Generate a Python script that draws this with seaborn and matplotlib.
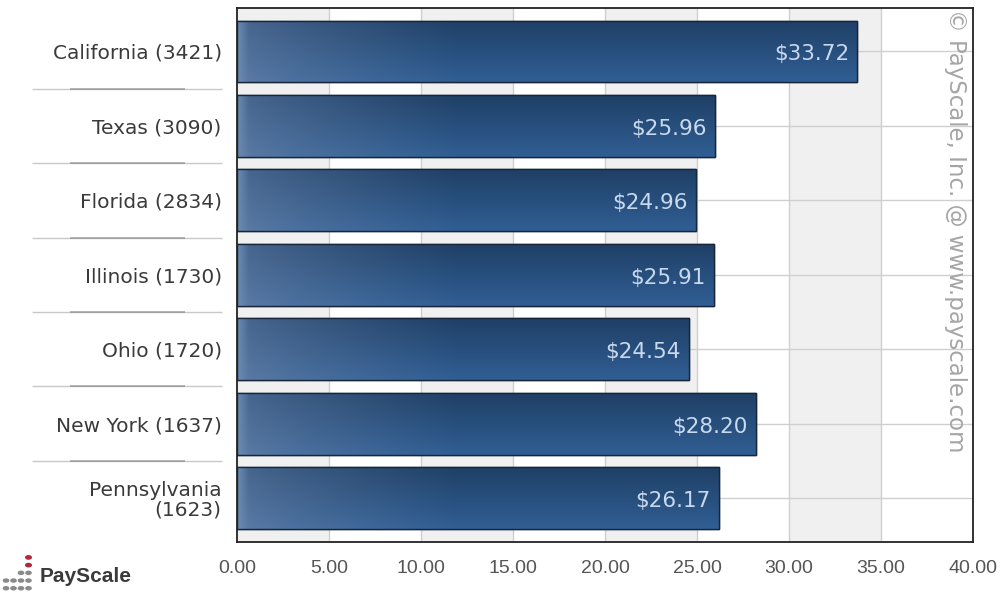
import matplotlib
matplotlib.use('Agg')
import matplotlib.pyplot as plt
import matplotlib.transforms as mtransforms
from matplotlib.patches import Circle, Rectangle
import seaborn as sns
import numpy as np
import pandas as pd

# data
states = ['California (3421)', 'Texas (3090)', 'Florida (2834)', 'Illinois (1730)',
          'Ohio (1720)', 'New York (1637)', 'Pennsylvania\n(1623)']
wages = [33.72, 25.96, 24.96, 25.91, 24.54, 28.20, 26.17]
wage_labels = ['$33.72', '$25.96', '$24.96', '$25.91', '$24.54', '$28.20', '$26.17']
x_ticks = [0, 5, 10, 15, 20, 25, 30, 35, 40]

df = pd.DataFrame({'state': states, 'wage': wages})

sns.set_style('white')
plt.rcParams['font.family'] = ['DejaVu Sans']

fig = plt.figure(figsize=(10, 5.93), dpi=100)
ax = fig.add_axes([0.237, 0.086, 0.736, 0.9])

sns.barplot(data=df, x='wage', y='state', orient='h', color='#2a5385',
            width=0.83, edgecolor='#1a2a40', linewidth=1.0, ax=ax, zorder=3)

ax.set_xlim(0, 40)
ax.set_ylim(len(states) - 1 + 0.59, -0.58)

# alternating column bands
for i, x0 in enumerate(x_ticks[:-1]):
    if i % 2 == 0:
        ax.axvspan(x0, x0 + 5, color='#f0f0f0', zorder=0, lw=0)
for x in x_ticks[1:-1]:
    ax.axvline(x, color='#cfcfcf', lw=1, zorder=1)
for i in range(len(states)):
    ax.axhline(i, color='#cfcfcf', lw=1, zorder=1)

# gradient fill for the bars (row 0 = top of bar)
xs = np.linspace(0, 40, 400)
ys = np.linspace(0, 1, 60)
X, Y = np.meshgrid(xs, ys)
h = np.clip(X / 12.0, 0, 1) ** 0.7
light_top = np.array([0.30, 0.42, 0.58])
light_bot = np.array([0.37, 0.49, 0.65])
dark_top = np.array([0.12, 0.25, 0.40])
dark_bot = np.array([0.19, 0.37, 0.58])
v = Y[..., None]
light = light_top * (1 - v) + light_bot * v
dark = dark_top * (1 - v) + dark_bot * v
img = light * (1 - h[..., None]) + dark * h[..., None]
edge = np.clip(1 - X / 0.6, 0, 1)[..., None]
img = img * (1 - edge) + np.array([0.42, 0.54, 0.69]) * edge
img = np.clip(img, 0, 1)

for patch in ax.patches[:len(states)]:
    bx, by = patch.get_x(), patch.get_y()
    bw, bh = patch.get_width(), patch.get_height()
    im = ax.imshow(img, extent=(0, 40, by, by + bh), aspect='auto',
                   origin='lower', zorder=3.5, interpolation='bilinear')
    im.set_clip_path(patch)
    border = Rectangle((bx, by), bw, bh, fill=False, edgecolor='#17263a',
                       lw=1.0, zorder=4)
    ax.add_patch(border)

# value labels inside bars
for i, (w, lab) in enumerate(zip(wages, wage_labels)):
    ax.text(w - 0.45, i + 0.04, lab, ha='right', va='center', fontsize=15.5,
            color='#c9d9ee', zorder=5)

ax.set_ylabel('')
ax.set_xlabel('')
ax.set_xticks(x_ticks)
ax.set_xticklabels([f'{t:.2f}' for t in x_ticks], fontsize=14, color='#555555',
                   family='Liberation Sans')
ax.tick_params(axis='x', direction='inout', length=8, width=1.2, color='#222222', pad=9)
ax.tick_params(axis='y', direction='out', length=5, width=1.2, color='#222222',
               labelsize=14.5, labelcolor='#3a3a3a', pad=6)
for lab in ax.get_yticklabels():
    lab.set_multialignment('right')
    lab.set_linespacing(1.05)

for s in ax.spines.values():
    s.set_color('#222222')
    s.set_linewidth(1.3)
    s.set_zorder(6)

# separators between the category labels
trans = mtransforms.blended_transform_factory(fig.transFigure, ax.transData)
for i in range(len(states) - 1):
    ax.plot([0.032, 0.222], [i + 0.5, i + 0.5], transform=trans, color='#c8c8c8',
            lw=1.0, clip_on=False, solid_capstyle='butt')
    ax.plot([0.07, 0.185], [i + 0.5, i + 0.5], transform=trans, color='#777777',
            lw=1.2, alpha=0.6, clip_on=False, solid_capstyle='butt')

# watermark
fig.text(0.956, 0.985, '\u00a9 PayScale, Inc. @ www.payscale.com', rotation=-90,
         ha='center', va='top', fontsize=16.5, color='#a5a5a5')

# logo
fig.text(0.04, 0.028, 'PayScale', fontsize=15, fontweight='bold',
         color='#3a3a3a', ha='left', va='center', family='Liberation Sans')
for cx in range(4):
    for cy in range(3):
        if cy == 2 and cx < 2:
            continue
        fig.add_artist(Circle((0.006 + cx * 0.0075, 0.008 + cy * 0.013), 0.0026,
                              transform=fig.transFigure, color='#8a8a8a'))
for cy in range(2):
    fig.add_artist(Circle((0.0285, 0.047 + cy * 0.013), 0.0028,
                          transform=fig.transFigure, color='#b02a3a'))

fig.savefig('out.png', dpi=100)
